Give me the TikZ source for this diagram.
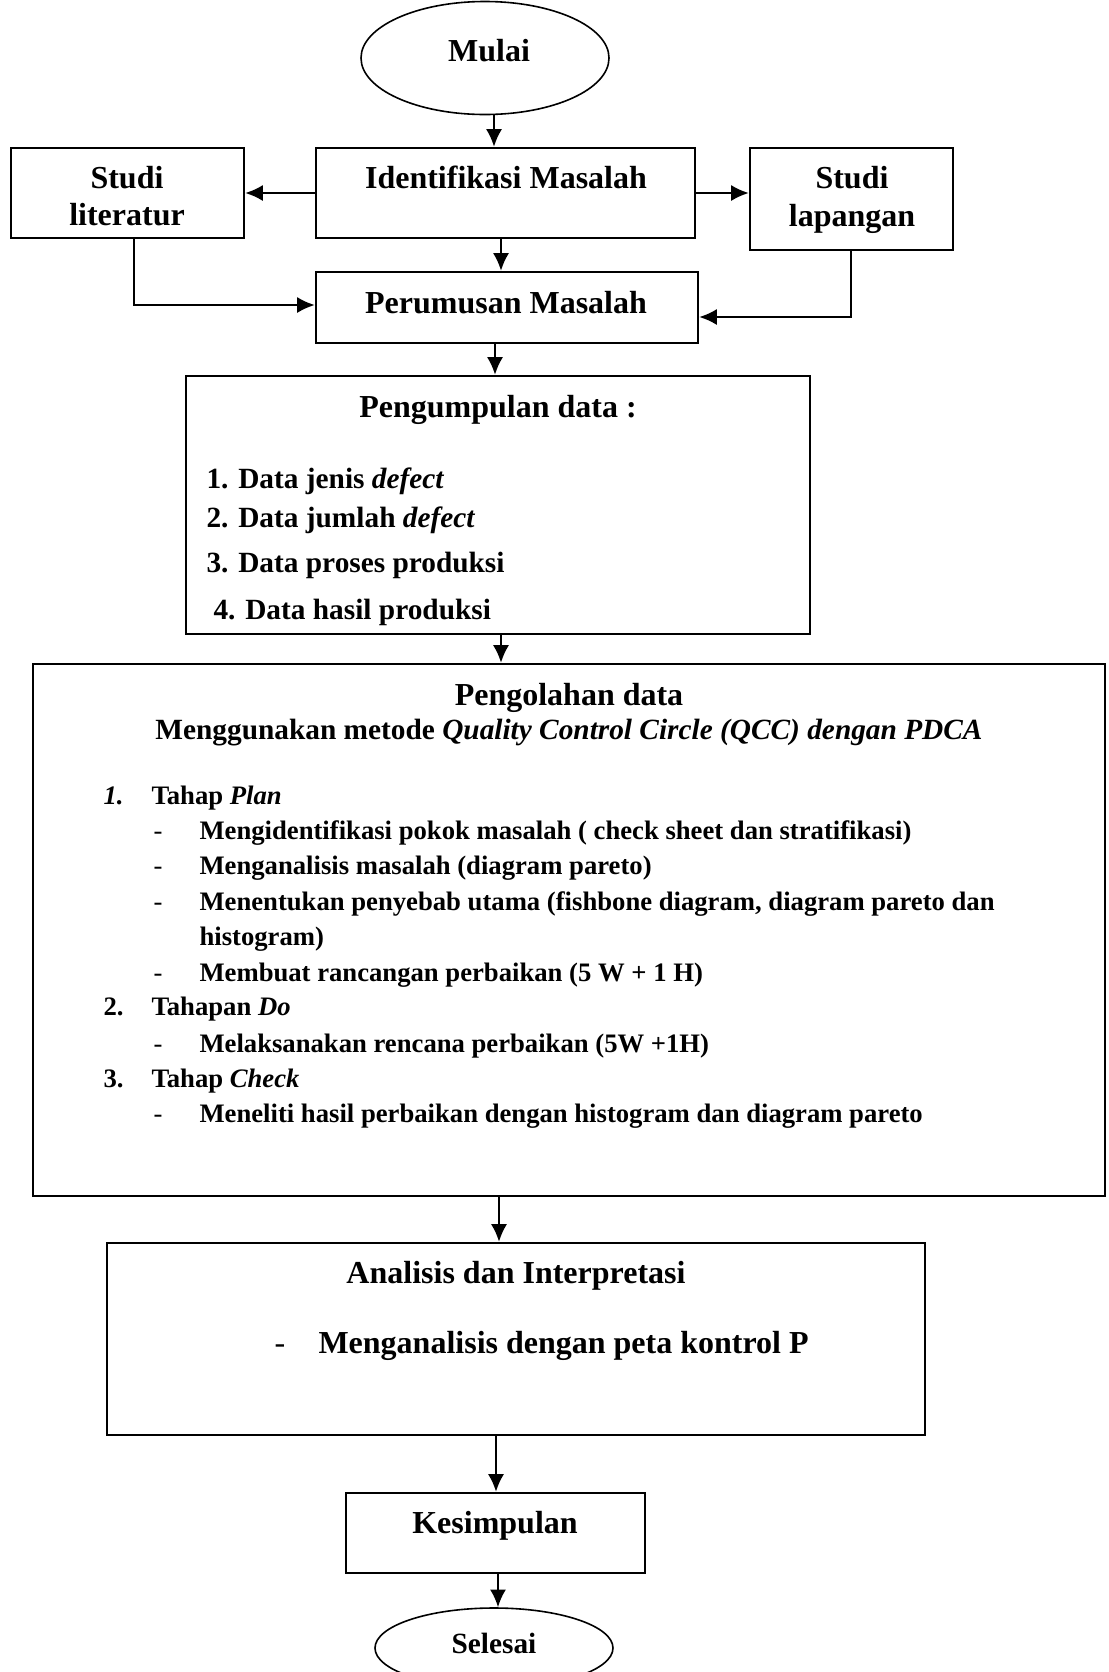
\documentclass[tikz,border=0pt]{standalone}
\usepackage{fontspec}
\setmainfont{Liberation Serif}
\usetikzlibrary{shapes.geometric,arrows.meta,fit}
\begin{document}
\begin{tikzpicture}[x=0.375pt,y=-0.375pt,
  box/.style={draw,line width=0.9pt,inner sep=0pt},
  oval/.style={draw,ellipse,line width=0.6pt,inner sep=0pt},
  arr/.style={line width=0.8pt,-{Latex[length=6.6pt,width=6pt]}},
  t12/.style={font=\fontsize{12}{14}\selectfont\bfseries,inner sep=0pt},
  t11/.style={font=\fontsize{11}{13}\selectfont\bfseries,inner sep=0pt},
  t10/.style={font=\fontsize{10}{12}\selectfont\bfseries,inner sep=0pt}]
\useasboundingbox (0,0) rectangle (1108,1672);
% shapes
\node[oval,minimum width=248*0.375pt,minimum height=113*0.375pt] (mulai) at (485,58) {};
\node[box,fit={(11,148) (244,238)}] (lit) {};
\node[box,fit={(316,148) (695,238)}] (ident) {};
\node[box,fit={(750,148) (953,250)}] (lap) {};
\node[box,fit={(316,272) (698,343)}] (perum) {};
\node[box,fit={(186,376) (810,634)}] (kumpul) {};
\node[box,fit={(33,664) (1105,1196)}] (olah) {};
\node[box,fit={(107,1243) (925,1435)}] (anal) {};
\node[box,fit={(346,1493) (645,1573)}] (kes) {};
\node[oval,minimum width=238*0.375pt,minimum height=80*0.375pt] (selesai) at (494,1648) {};
% texts
\node[t12,anchor=base] (tmulai) at (489,61) {Mulai};
\node[t12,anchor=base] (tlit1) at (127,188) {Studi};
\node[t12,anchor=base] (tlit2) at (127,225) {literatur};
\node[t12,anchor=base] (tident) at (506,188) {Identifikasi Masalah};
\node[t12,anchor=base] (tlap1) at (852,188) {Studi};
\node[t12,anchor=base] (tlap2) at (852,226) {lapangan};
\node[t12,anchor=base] (tperum) at (506,313) {Perumusan Masalah};
\node[t12,anchor=base] (tkumpul) at (498,417) {Pengumpulan data :};
\node[t11,anchor=base west] (k1) at (206,488) {1. Data jenis \textit{defect}};
\node[t11,anchor=base west] (k2) at (206,527) {2. Data jumlah \textit{defect}};
\node[t11,anchor=base west] (k3) at (206,572) {3. Data proses produksi};
\node[t11,anchor=base west] (k4) at (213,619) {4. Data hasil produksi};
\node[t12,anchor=base] (tolah) at (569,705) {Pengolahan data};
\node[t11,anchor=base] (tolah2) at (569,739) {Menggunakan metode \textit{Quality Control Circle (QCC) dengan PDCA}};
% list
\node[t10,anchor=base west] (n1) at (103,804) {\textit{1.}};
\node[t10,anchor=base west] (h1) at (151,804) {Tahap \textit{Plan}};
\node[t10,anchor=base west] (d1) at (153,839) {\mdseries -};
\node[t10,anchor=base west] (l1) at (199,839) {Mengidentifikasi pokok masalah ( check sheet dan stratifikasi)};
\node[t10,anchor=base west] (d2) at (153,874) {\mdseries -};
\node[t10,anchor=base west] (l2) at (199,874) {Menganalisis masalah (diagram pareto)};
\node[t10,anchor=base west] (d3) at (153,910) {\mdseries -};
\node[t10,anchor=base west] (l3) at (199,910) {Menentukan penyebab utama (fishbone diagram, diagram pareto dan};
\node[t10,anchor=base west] (l3b) at (199,945) {histogram)};
\node[t10,anchor=base west] (d4) at (153,981) {\mdseries -};
\node[t10,anchor=base west] (l4) at (199,981) {Membuat rancangan perbaikan (5 W + 1 H)};
\node[t10,anchor=base west] (n2) at (103,1015) {2.};
\node[t10,anchor=base west] (h2) at (151,1015) {Tahapan \textit{Do}};
\node[t10,anchor=base west] (d5) at (153,1052) {\mdseries -};
\node[t10,anchor=base west] (l5) at (199,1052) {Melaksanakan rencana perbaikan (5W +1H)};
\node[t10,anchor=base west] (n3) at (103,1087) {3.};
\node[t10,anchor=base west] (h3) at (151,1087) {Tahap \textit{Check}};
\node[t10,anchor=base west] (d6) at (153,1122) {\mdseries -};
\node[t10,anchor=base west] (l6) at (199,1122) {Meneliti hasil perbaikan dengan histogram dan diagram pareto};
\node[t12,anchor=base] (tanal) at (516,1283) {Analisis dan Interpretasi};
\node[t12,anchor=base west] (da) at (274,1353) {\mdseries -};
\node[t12,anchor=base west] (la) at (318,1353) {Menganalisis dengan peta kontrol P};
\node[t12,anchor=base] (tkes) at (495,1533) {Kesimpulan};
\node[t11,anchor=base] (tsel) at (494,1653) {Selesai};
% connector x positions
\coordinate (x494) at (494,0);
\coordinate (x501) at (501,0);
\coordinate (x495) at (495,0);
\coordinate (x499) at (499,0);
\coordinate (x496) at (496,0);
\coordinate (x498) at (498,0);
\coordinate (x134) at (134,0);
\coordinate (x851) at (851,0);
\coordinate (y305) at (0,305);
\coordinate (y317) at (0,317);
% connectors
\draw[arr] (mulai.south -| x494) -- (ident.north -| x494);
\draw[arr] (ident.west) -- (lit.east |- ident.west);
\draw[arr] (ident.east) -- (lap.west |- ident.east);
\draw[arr] (ident.south -| x501) -- (perum.north -| x501);
\draw[arr] (lit.south -| x134) |- (perum.west |- y305);
\draw[arr] (lap.south -| x851) |- (perum.east |- y317);
\draw[arr] (perum.south -| x495) -- (kumpul.north -| x495);
\draw[arr] (kumpul.south -| x501) -- (olah.north -| x501);
\draw[arr] (olah.south -| x499) -- (anal.north -| x499);
\draw[arr] (anal.south -| x496) -- (kes.north -| x496);
\draw[arr] (kes.south -| x498) -- (selesai.north -| x498);
\end{tikzpicture}
\end{document}
